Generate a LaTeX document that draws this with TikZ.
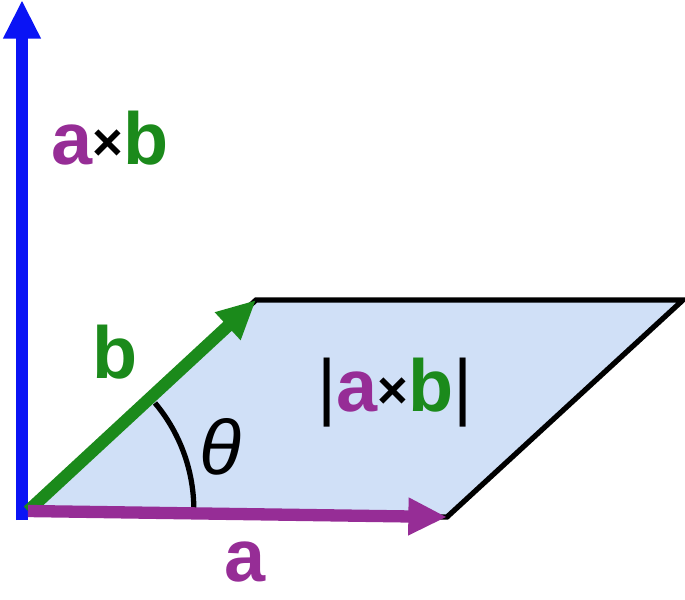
\documentclass[tikz,border=0pt]{standalone}
\usepackage{fontspec}
\setmainfont{Liberation Sans}
\usetikzlibrary{arrows.meta}
\definecolor{vecblue}{HTML}{0A14F5}
\definecolor{vecgreen}{HTML}{1B8A1B}
\definecolor{vecpurple}{HTML}{962D96}
\definecolor{areafill}{HTML}{D0E0F7}
\tikzset{
  vec/.style={line width=7pt, -{Triangle[length=22pt,width=20pt]}},
  lbl/.style={font=\fontsize{42}{48}\selectfont\bfseries}
}
\begin{document}
\begin{tikzpicture}[x=0.02cm,y=-0.02cm]
      \useasboundingbox (0,0) rectangle (685,599);
      \coordinate (o) at (28,511);
      \coordinate (tipa) at (447,517);
      \coordinate (tipb) at (256,300);
      \coordinate (far) at (683,300);
      \coordinate (top) at (22,0);
      \fill[areafill, draw=black, line width=3pt] (o) -- (tipa) -- (far) -- (tipb) -- cycle;
      \draw[black, line width=3pt] (155,403) arc[start angle=-40, end angle=2, radius=166];
      \draw[vec, vecblue] (22,520) -- (top);
      \draw[vec, vecgreen] (o) -- (tipb);
      \draw[vec, vecpurple] (o) -- (tipa);
      \node[lbl] (axb) at (110,138) {\textcolor{vecpurple}{a}\raisebox{2pt}{\fontsize{30}{30}\selectfont×}\textcolor{vecgreen}{b}};
      \node[lbl, vecgreen] (lb) at (115,352) {b};
      \node[lbl] (area) at (395,393) {{\mdseries|}\textcolor{vecpurple}{a}\raisebox{2pt}{\fontsize{30}{30}\selectfont×}\textcolor{vecgreen}{b}{\mdseries|}};
      \node[font=\fontsize{44}{48}\selectfont\itshape] (th) at (220,447) {θ};
      \node[lbl, vecpurple] (la) at (245,562) {a};
\end{tikzpicture}
\end{document}
